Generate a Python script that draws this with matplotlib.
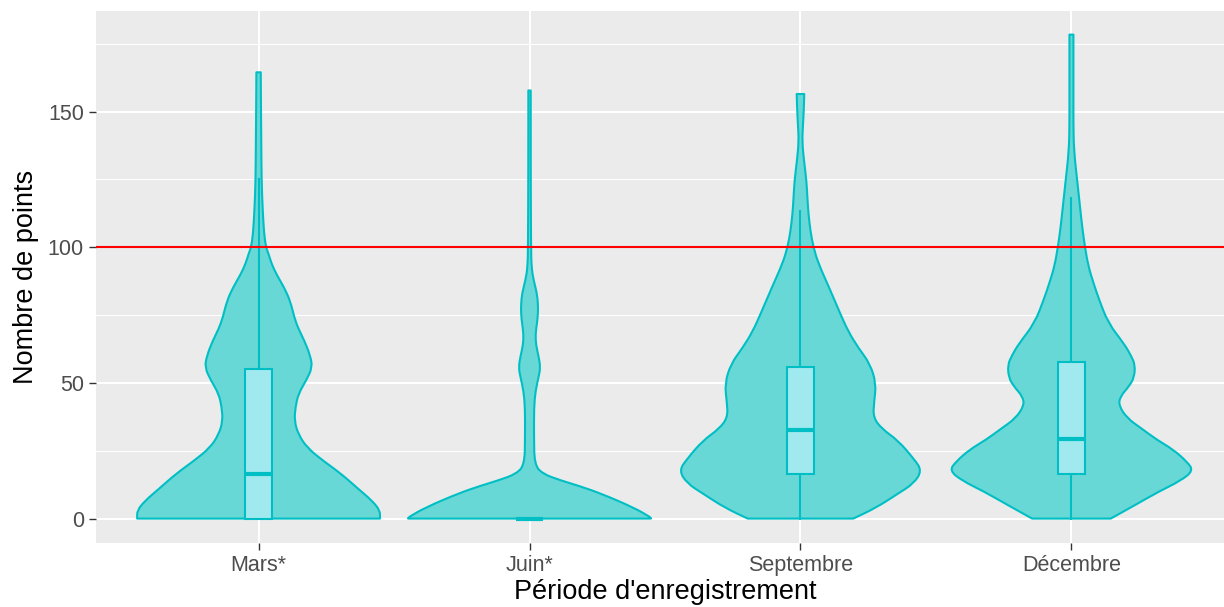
import matplotlib.pyplot as plt
import numpy as np
from matplotlib.path import Path
from matplotlib.patches import PathPatch

plt.rcParams['font.family'] = ['Liberation Sans', 'DejaVu Sans']

periodes = ["Mars*", "Juin*", "Septembre", "Décembre"]

# profils des violons : niveaux y et demi-largeur (pixels lus, 122.5 = largeur max)
mars_y = [0, 3, 6.6, 11, 16.5, 21, 26, 31, 36, 41, 46, 51, 55.7, 60, 65.6, 70, 74, 80, 85, 90, 94, 97.6, 100, 105, 114.7, 125, 139, 152, 164.5]
mars_w = [122, 122, 114, 100, 83, 66, 49, 40, 36, 37, 40, 48, 54, 52, 46, 40, 36, 32, 26, 18, 13, 10, 7.5, 5.5, 4, 3, 2.7, 2.4, 2.2]

juin_y = [0, 0.4, 4, 9.2, 12, 14, 16.5, 20, 30, 41, 47, 52, 55.7, 60, 64, 68, 72, 75.5, 79, 83, 88, 92.6, 100, 130, 157.8]
juin_w = [122, 122, 105, 72, 50, 32, 13, 5, 4.5, 4.5, 6, 9, 11, 9, 6.5, 6, 7.5, 8.5, 8.5, 7.5, 4, 2, 1.5, 1.2, 1.2]

sept_y = [0, 4, 9.2, 13, 17.7, 22, 28.8, 33, 37.3, 43, 49.7, 57, 63, 69, 75.5, 85, 94, 100, 106, 112.4, 118, 124.6, 132, 139, 145, 150.4, 156.5]
sept_w = [53, 76, 98, 114, 122, 114, 98, 82, 73, 74, 76, 70, 58, 48, 40, 29, 18, 13, 10, 8, 7, 6, 3.5, 1.7, 2.5, 3.3, 3.8]

dec_y = [0, 5, 10, 14, 17.7, 21, 25.5, 29, 33.3, 37, 41.7, 45, 48.8, 52, 56.6, 60, 64.4, 72, 81, 87, 93, 100.3, 107, 113.6, 124, 135.6, 145, 152.5, 165, 178.4]
dec_w = [39.5, 64, 88, 110, 122.5, 116, 102, 86, 70, 56, 47.5, 49, 58, 63, 64, 60, 53, 37, 27.5, 22, 17, 13.5, 11, 9, 6, 2.5, 2, 2, 2, 2]

violons_y = [mars_y, juin_y, sept_y, dec_y]
violons_w = [mars_w, juin_w, sept_w, dec_w]

# statistiques des boîtes
q1 = [0, 0, 16.5, 16.5]
mediane = [16.5, 0, 32.8, 29.4]
q3 = [55.3, 0, 55.7, 57.6]
moust_bas = [0, 0, 0, 0]
moust_haut = [125, 0, 113.5, 118]

seuil = 100

contour = '#00BFC4'
remplissage = '#68D8D6'
boite = '#A0E9EF'


def cote_lisse(pts):
    # courbe lissée passant par les milieux des segments (bezier quadratique)
    verts = [pts[0], (pts[0] + pts[1]) / 2]
    codes = [Path.LINETO, Path.LINETO]
    for k in range(1, len(pts) - 1):
        verts += [pts[k], (pts[k] + pts[k + 1]) / 2]
        codes += [Path.CURVE3, Path.CURVE3]
    verts.append(pts[-1])
    codes.append(Path.LINETO)
    return verts, codes


fig = plt.figure(figsize=(12.24, 6.07), dpi=100)
ax = fig.add_axes([96 / 1224, 1 - 543 / 607, 1138 / 1224, 532 / 607])
ax.set_facecolor('#EBEBEB')

for i in range(len(periodes)):
    x = i + 1
    y = np.array(violons_y[i], dtype=float)
    w = np.array(violons_w[i], dtype=float) / 122.5 * 0.45
    gauche = np.column_stack([x - w, y])
    droite = np.column_stack([x + w, y])[::-1]
    v1, c1 = cote_lisse(gauche)
    v2, c2 = cote_lisse(droite)
    c1[0] = Path.MOVETO
    verts = v1 + v2 + [gauche[0]]
    codes = c1 + c2 + [Path.CLOSEPOLY]
    patch = PathPatch(Path(verts, codes), facecolor=remplissage, edgecolor=contour,
                      lw=1.5, joinstyle='round', zorder=2)
    ax.add_patch(patch)

    # moustaches et boîte
    ax.plot([x, x], [q3[i], moust_haut[i]], color=contour, lw=1.5, zorder=4)
    ax.plot([x, x], [moust_bas[i], q1[i]], color=contour, lw=1.5, zorder=4)
    bw = 0.05
    ax.fill([x - bw, x + bw, x + bw, x - bw], [q1[i], q1[i], q3[i], q3[i]],
            facecolor=boite, edgecolor=contour, lw=1.5, zorder=4)
    ax.plot([x - bw, x + bw], [mediane[i], mediane[i]], color=contour, lw=3, zorder=5,
            solid_capstyle='butt')

ax.axhline(seuil, color='#FF0000', lw=1.5, zorder=6)

ax.set_xlim(0.4, 4.6)
ax.set_ylim(-9.0, 187.1)
ax.set_xticks(range(1, len(periodes) + 1))
ax.set_xticklabels(periodes)
ax.set_yticks([0, 50, 100, 150])
ax.set_yticks([25, 75, 125, 175], minor=True)
ax.grid(which='major', color='white', lw=1.5, zorder=0)
ax.grid(which='minor', axis='y', color='white', lw=0.75, zorder=0)
ax.set_axisbelow(True)
for s in ax.spines.values():
    s.set_visible(False)
ax.tick_params(which='major', length=4.8, width=1, color='#333333', labelcolor='#4D4D4D',
               labelsize=15.5, pad=3.9)
ax.tick_params(which='minor', length=0)

ax.set_xlabel("Période d'enregistrement", fontsize=19.5, labelpad=2)
ax.set_ylabel("Nombre de points", fontsize=19.5, labelpad=6)

plt.savefig('out.png', dpi=100)
